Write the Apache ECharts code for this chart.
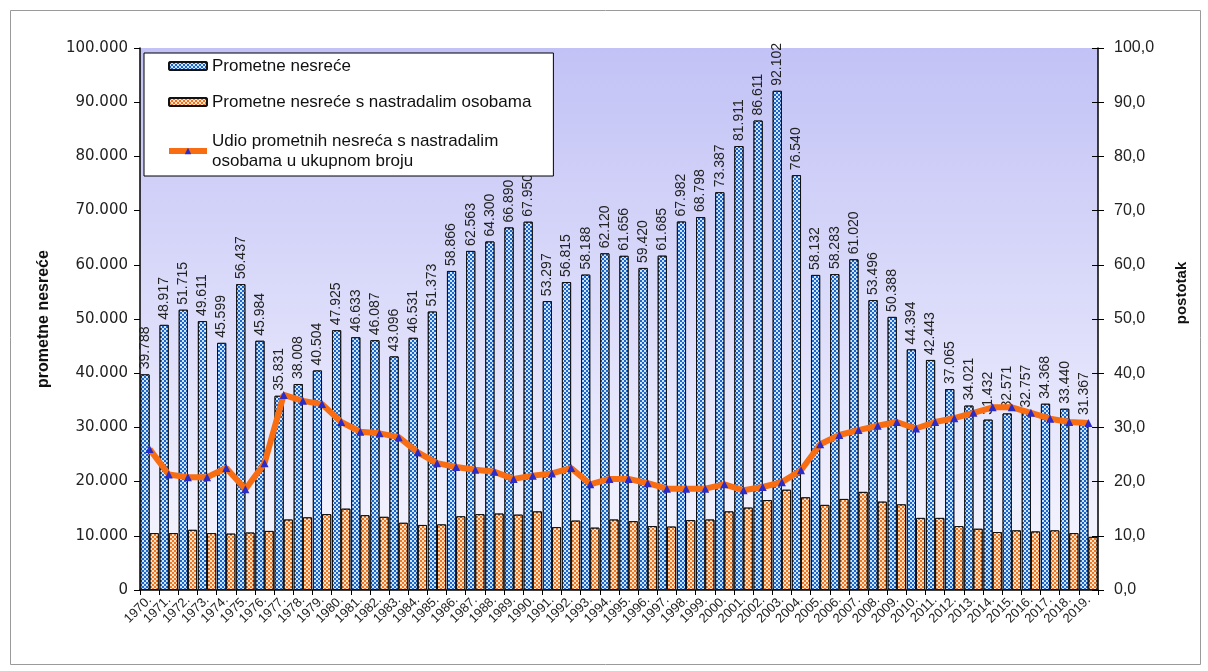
<!DOCTYPE html>
<html>
<head>
<meta charset="utf-8">
<script src="https://cdn.jsdelivr.net/npm/echarts@6/dist/echarts.min.js"></script>
<style>
html,body{margin:0;padding:0;background:#fff;}
#chart{width:1208px;height:671px;}
</style>
</head>
<body>
<div id="chart"></div>
<script>
const years = ['1970.','1971.','1972.','1973.','1974.','1975.','1976.','1977.','1978.','1979.',
'1980.','1981.','1982.','1983.','1984.','1985.','1986.','1987.','1988.','1989.',
'1990.','1991.','1992.','1993.','1994.','1995.','1996.','1997.','1998.','1999.',
'2000.','2001.','2002.','2003.','2004.','2005.','2006.','2007.','2008.','2009.',
'2010.','2011.','2012.','2013.','2014.','2015.','2016.','2017.','2018.','2019.'];

const totalAccidents = [39788,48917,51715,49611,45599,56437,45984,35831,38008,40504,
47925,46633,46087,43096,46531,51373,58866,62563,64300,66890,
67950,53297,56815,58188,62120,61656,59420,61685,67982,68798,
73387,81911,86611,92102,76540,58132,58283,61020,53496,50388,
44394,42443,37065,34021,31432,32571,32757,34368,33440,31367];

const casualtyAccidents = [10500,10500,11100,10500,10400,10600,10900,13000,13400,14000,
15000,13800,13500,12400,12000,12100,13600,14000,14100,13900,
14500,11600,12800,11500,13000,12700,11800,11700,12900,13000,
14500,15200,16600,18500,17100,15700,16800,18100,16300,15800,
13300,13300,11800,11300,10700,11000,10800,11000,10500,9800];

const sharePercent = [26.0,21.3,20.8,20.8,22.5,18.6,23.4,36.0,34.9,34.3,
31.0,29.2,28.9,28.2,25.4,23.4,22.7,22.2,21.8,20.5,
21.1,21.5,22.5,19.5,20.5,20.5,19.7,18.7,18.7,18.7,
19.5,18.4,19.0,19.9,22.1,26.9,28.6,29.5,30.3,31.0,
29.8,31.0,31.7,32.7,33.7,33.7,32.7,31.6,31.0,30.8];

const leftTicks = ['0','10.000','20.000','30.000','40.000','50.000','60.000','70.000','80.000','90.000','100.000'];
const rightTicks = ['0,0','10,0','20,0','30,0','40,0','50,0','60,0','70,0','80,0','90,0','100,0'];

const nameTotal = 'Prometne nesreće';
const nameCasualty = 'Prometne nesreće s nastradalim osobama';
const nameShare = 'Udio prometnih nesreća s nastradalim\nosobama u ukupnom broju';

const chart = echarts.init(document.getElementById('chart'), null, {renderer:'canvas'});

const fmtThousands = v => {
  const s = String(Math.round(v));
  return s.length > 3 ? s.slice(0, s.length-3) + '.' + s.slice(-3) : s;
};

const checker = (c) => ({
  symbol: 'rect', symbolSize: 1, color: c,
  dashArrayX: [[2,2],[0,2,2,0]], dashArrayY: [2,0]
});

const FONT = 'Liberation Sans, Arial, sans-serif';
const WIDE = 'DejaVu Sans, sans-serif';

chart.setOption({
  backgroundColor: '#ffffff',
  animation: false,
  textStyle: {fontFamily: FONT},
  graphic: [{
    type: 'rect', left: 8, top: 8, z: -10,
    shape: {width: 1190, height: 654},
    style: {fill: 'none', stroke: '#9a9a9a', lineWidth: 1}
  }],
  legend: {
    orient: 'vertical',
    left: 144, top: 53,
    padding: [3, 22, 2, 22],
    itemGap: 16,
    itemWidth: 38, itemHeight: 8,
    backgroundColor: '#ffffff',
    borderColor: '#000000', borderWidth: 1,
    textStyle: {fontSize: 17, color: '#111', lineHeight: 20, fontFamily: FONT},
    data: [
      {name: nameTotal},
      {name: nameCasualty},
      {name: nameShare, lineStyle: {width: 6, color: '#f86c12'},
       textStyle: {fontSize: 17, lineHeight: 20, padding: [6, 0, 0, 0]}}
    ]
  },
  grid: {
    left: 140, right: 110, top: 48, bottom: 81,
    show: true, borderWidth: 0,
    backgroundColor: {
      type: 'linear', x: 0, y: 0, x2: 0, y2: 1,
      colorStops: [{offset: 0, color: '#c2c2f6'}, {offset: 1, color: '#f8f8ff'}]
    }
  },
  xAxis: {
    type: 'category',
    data: years,
    boundaryGap: true,
    axisLine: {lineStyle: {color: '#000', width: 1.5}},
    axisTick: {show: true, length: 5, lineStyle: {color: '#000'}},
    axisLabel: {interval: 0, rotate: 45, fontSize: 13, color: '#222', margin: 8}
  },
  yAxis: [{
    type: 'value', min: 0, max: 100000, interval: 10000,
    name: 'prometne nesreće', nameLocation: 'middle', nameGap: 88, nameRotate: 90,
    nameTextStyle: {fontSize: 16, fontWeight: 'bold', color: '#111'},
    axisLine: {show: true, lineStyle: {color: '#000', width: 1.5}},
    axisTick: {show: true, length: 6, lineStyle: {color: '#000'}},
    splitLine: {show: false},
    axisLabel: {fontSize: 15, color: '#222', margin: 12, fontFamily: WIDE,
      formatter: (v) => leftTicks[Math.round(v/10000)]}
  }, {
    type: 'value', min: 0, max: 100, interval: 10, position: 'right',
    name: 'postotak', nameLocation: 'middle', nameGap: 76, nameRotate: 90,
    nameTextStyle: {fontSize: 15, fontWeight: 'bold', color: '#111', padding: [0, 0, 0, 52]},
    axisLine: {show: true, lineStyle: {color: '#000', width: 1.5}},
    axisTick: {show: true, length: 6, lineStyle: {color: '#000'}},
    splitLine: {show: false},
    axisLabel: {fontSize: 16, color: '#222', margin: 16,
      formatter: (v) => rightTicks[Math.round(v/10)]}
  }, {
    type: 'value', min: 0, max: 100, interval: 10, position: 'right',
    axisLine: {show: false},
    axisTick: {show: true, inside: true, length: 6, lineStyle: {color: '#000'}},
    axisLabel: {show: false},
    splitLine: {show: false}
  }],
  series: [{
    name: nameTotal,
    type: 'bar',
    data: totalAccidents,
    barGap: '0%',
    barCategoryGap: '4%',
    itemStyle: {color: '#1a66cc', borderColor: '#111', borderWidth: 1,
      decal: checker('rgba(215,235,255,0.95)')},
    label: {show: true, position: 'top', rotate: 90, align: 'left', verticalAlign: 'middle',
      distance: 5, fontSize: 14, color: '#222', formatter: (p) => fmtThousands(p.value)}
  }, {
    name: nameCasualty,
    type: 'bar',
    data: casualtyAccidents,
    itemStyle: {color: '#ee7420', borderColor: '#111', borderWidth: 1,
      decal: checker('rgba(255,232,210,0.95)')}
  }, {
    name: nameShare,
    type: 'line',
    yAxisIndex: 1,
    data: sharePercent,
    symbol: 'triangle', symbolSize: 8,
    lineStyle: {color: '#f86c12', width: 6},
    itemStyle: {color: '#2b2bc8'},
    z: 5
  }]
});
</script>
</body>
</html>
